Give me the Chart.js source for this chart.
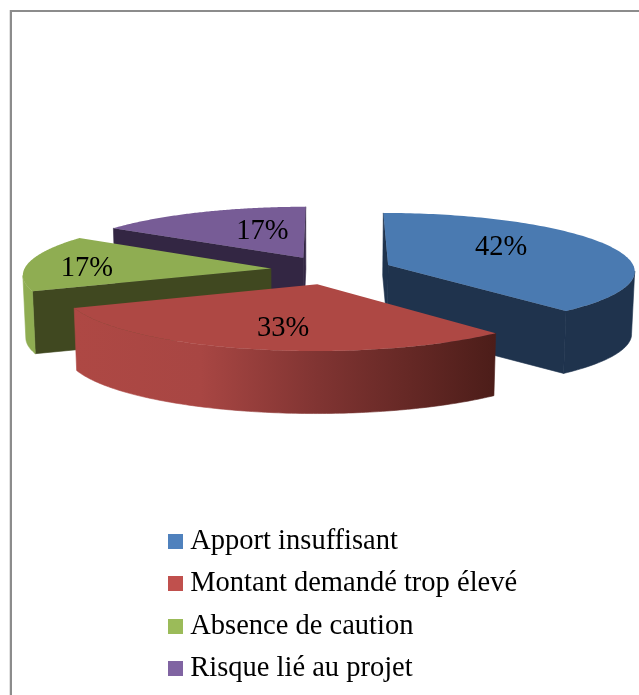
<!DOCTYPE html>
<html>
<head>
<meta charset="utf-8">
<script src="https://cdn.jsdelivr.net/npm/chart.js@4"></script>
<style>html,body{margin:0;padding:0;background:#fff;overflow:hidden}canvas{display:block}</style>
</head>
<body>
<canvas id="c" width="639" height="695"></canvas>
<script>
const categories = ['Apport insuffisant', 'Montant demandé trop élevé', 'Absence de caution', 'Risque lié au projet'];
const percentValues = [42, 33, 17, 17];
const legendColors = ['#4F81BD', '#C0504D', '#9BBB59', '#8064A2'];
const topColors = ['#4A7AB1', '#AE4844', '#8FAD52', '#775C96'];
const wallColors = ['#1F334D', '#4C1D19', '#404820', '#332643'];
const drawOrder = [3, 2, 0, 1];
const labelShift = [[113, -17], [-34, 44], [-184, 0], [-41, -26]];

const FONT = '"Liberation Serif", serif';
const FONT_SIZE = 28.5;
const TILT = 0.234, PERSP = 0.093, DEPTH = 62.5, SHRINK = 0.99, AXIS_X = 320;

function swatch(color) {
  const s = document.createElement('canvas');
  s.width = 15; s.height = 15;
  const g = s.getContext('2d');
  g.fillStyle = color; g.fillRect(0, 0, 15, 15);
  return s;
}

const pie3d = {
  id: 'pie3d',
  beforeDraw(chart) {
    const ctx = chart.ctx;
    ctx.save();
    ctx.fillStyle = '#e2e2e2'; ctx.fillRect(9, 10, 1, 685);
    ctx.fillStyle = '#8c8c8c';
    ctx.fillRect(10, 10, 629, 2);
    ctx.fillRect(10, 10, 2, 685);
    ctx.restore();
  },
  afterLayout(chart) {
    const l = chart.legend;
    l.left = 175 - l.options.labels.padding; l.right = 639;
    l.top = 513; l.bottom = 760;
  },
  beforeDatasetsDraw(chart) {
    const ctx = chart.ctx, meta = chart.getDatasetMeta(0);
    const redFill = ctx.createLinearGradient(75, 0, 495, 0);
    redFill.addColorStop(0, '#AE4844');
    redFill.addColorStop(0.3, '#A84643');
    redFill.addColorStop(0.58, '#803432');
    redFill.addColorStop(1, '#4C1D19');

    const band = (tops, low, style) => {
      ctx.beginPath();
      tops.forEach((p, k) => k ? ctx.lineTo(p.x, p.y) : ctx.moveTo(p.x, p.y));
      for (let k = tops.length - 1; k >= 0; k--) {
        const b = low(tops[k]);
        ctx.lineTo(b.x, b.y);
      }
      ctx.closePath();
      ctx.fillStyle = style;
      ctx.strokeStyle = style;
      ctx.lineWidth = 0.6;
      ctx.fill();
      ctx.stroke();
    };

    for (const i of drawOrder) {
      const arc = meta.data[i];
      const { x: cx, y: cy, startAngle, endAngle, outerRadius: R } =
        arc.getProps(['x', 'y', 'startAngle', 'endAngle', 'outerRadius'], true);
      const off = arc.options.offset, mid = (startAngle + endAngle) / 2;
      const ox = Math.cos(mid) * off, oy = Math.sin(mid) * off;
      const proj = (dx, dy) => {
        const s = 1 / (1 - PERSP * dy / R);
        return { x: cx + dx * s, y: cy + dy * TILT * s };
      };
      const apex = proj(ox, oy);
      const rim = [];
      const steps = 120;
      for (let k = 0; k <= steps; k++) {
        const a = startAngle + (endAngle - startAngle) * k / steps;
        rim.push(proj(ox + Math.cos(a) * R, oy + Math.sin(a) * R));
      }
      const low = p => ({ x: AXIS_X + (p.x - AXIS_X) * SHRINK, y: p.y + DEPTH });
      const rimFill = i === 1 ? redFill : (i === 2 ? topColors[2] : wallColors[i]);

      const first = rim[0], last = rim[rim.length - 1];
      if (first.x < apex.x) band([apex, first], low, wallColors[i]);
      if (apex.x < last.x) band([last, apex], low, wallColors[i]);

      let run = [];
      for (let k = 0; k < rim.length; k++) {
        const next = rim[k + 1];
        if (next && next.x < rim[k].x) {
          if (!run.length) run.push(rim[k]);
          run.push(next);
        } else if (run.length) {
          band(run, low, rimFill);
          run = [];
        }
      }

      ctx.beginPath();
      ctx.moveTo(apex.x, apex.y);
      rim.forEach(p => ctx.lineTo(p.x, p.y));
      ctx.closePath();
      ctx.fillStyle = topColors[i];
      ctx.fill();
      arc.$apex = apex;
    }
    ctx.save();
    ctx.fillStyle = '#000';
    ctx.font = FONT_SIZE + 'px ' + FONT;
    ctx.textAlign = 'center'; ctx.textBaseline = 'middle';
    percentValues.forEach((v, i) => {
      const a = meta.data[i].$apex;
      ctx.fillText(v + '%', a.x + labelShift[i][0], a.y + labelShift[i][1]);
    });
    ctx.restore();
    return false;
  }
};

new Chart(document.getElementById('c'), {
  type: 'pie',
  plugins: [pie3d],
  data: {
    labels: categories,
    datasets: [{
      data: percentValues,
      backgroundColor: legendColors,
      borderWidth: 0,
      offset: 61
    }]
  },
  options: {
    responsive: false,
    animation: false,
    radius: 247,
    layout: { padding: { left: 24, right: 0, top: 0, bottom: 155 } },
    plugins: {
      tooltip: { enabled: false },
      legend: {
        position: 'chartArea',
        align: 'start',
        labels: {
          usePointStyle: true,
          pointStyleWidth: 1,
          padding: 14,
          color: '#000',
          font: { family: FONT, size: FONT_SIZE },
          generateLabels(chart) {
            return Chart.overrides.pie.plugins.legend.labels.generateLabels(chart).map((it, i) => {
              it.pointStyle = swatch(legendColors[i]);
              return it;
            });
          }
        }
      }
    }
  }
});
</script>
</body>
</html>
